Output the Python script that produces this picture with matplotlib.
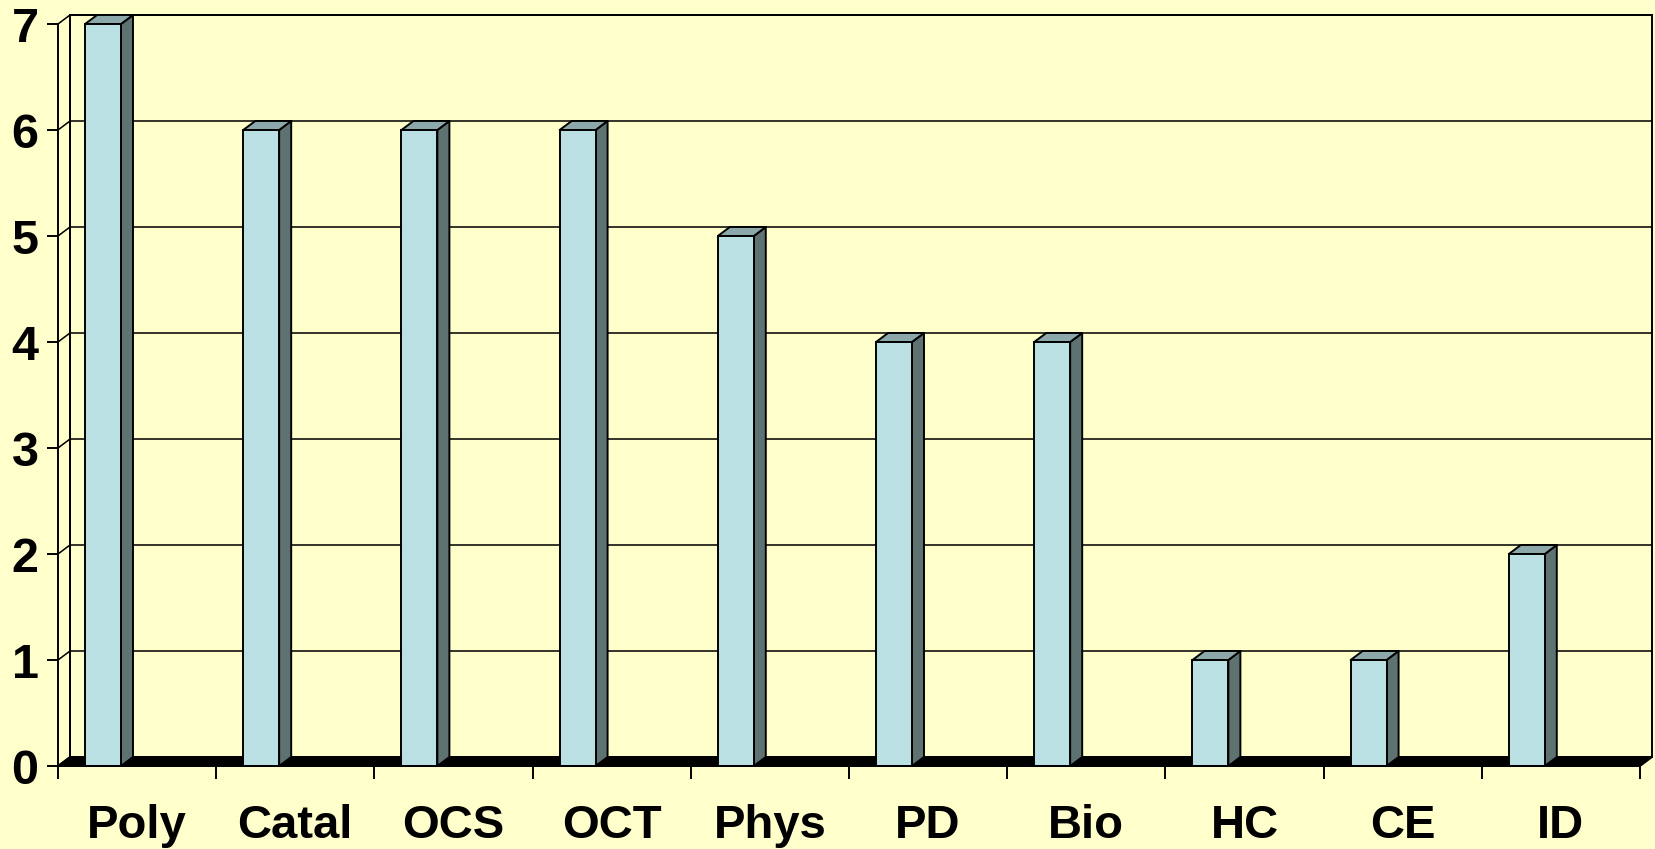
"""3D-style column chart (Excel look) drawn with plain matplotlib."""

import matplotlib.pyplot as plt
from matplotlib.patches import Polygon, Rectangle

categories = ['Poly', 'Catal', 'OCS', 'OCT', 'Phys', 'PD', 'Bio', 'HC', 'CE', 'ID']
counts = [7, 6, 6, 6, 5, 4, 4, 1, 1, 2]
y_ticks = [0, 1, 2, 3, 4, 5, 6, 7]

BG = '#FFFFCC'
FRONT = '#BBE0E3'
SIDE = '#5F7272'
TOP = '#8CA8AB'
DX, DY = 0.076, 0.085      # depth offset in data units
B0, B1 = 0.171, 0.398      # bar front face inside each category
LW = 1.4

plt.rcParams['font.family'] = ['Liberation Sans', 'DejaVu Sans']
plt.rcParams['font.weight'] = 'bold'

W, H = 1656, 849
fig = plt.figure(figsize=(W / 100, H / 100), dpi=100, facecolor=BG)
ax = fig.add_axes([58 / W, (H - 766) / H, (1640 - 58) / W, (766 - 24) / H])
ax.set_facecolor('none')
n = len(categories)
ymax = y_ticks[-1]
ax.set_xlim(0, n)
ax.set_ylim(0, ymax)

# back wall
ax.add_patch(Rectangle((DX, DY), n, ymax, facecolor=BG, edgecolor='black',
                       lw=LW, clip_on=False, zorder=0))
# gridlines on back wall and side wall
for t in y_ticks:
    ax.plot([DX, n + DX], [t + DY, t + DY], color='black', lw=LW * 0.8,
            clip_on=False, zorder=1)
    ax.plot([0, DX], [t, t + DY], color='black', lw=LW * 0.8,
            clip_on=False, zorder=1)
ax.plot([DX, DX], [DY, ymax + DY], color='black', lw=LW, clip_on=False, zorder=1)

# floor
ax.add_patch(Polygon([(0, 0), (n, 0), (n + DX, DY), (DX, DY)], closed=True,
                     facecolor='black', edgecolor='black', lw=LW,
                     clip_on=False, zorder=2))

# bars
for i, v in enumerate(counts):
    x0, x1 = i + B0, i + B1
    ax.add_patch(Polygon([(x1, 0), (x1 + DX, DY), (x1 + DX, v + DY), (x1, v)],
                         closed=True, facecolor=SIDE, edgecolor='black',
                         lw=LW, clip_on=False, zorder=3, joinstyle='round'))
    ax.add_patch(Polygon([(x0, v), (x1, v), (x1 + DX, v + DY), (x0 + DX, v + DY)],
                         closed=True, facecolor=TOP, edgecolor='black',
                         lw=LW, clip_on=False, zorder=3, joinstyle='round'))
ax.bar([i + B0 for i in range(n)], counts, width=B1 - B0, align='edge',
       color=FRONT, edgecolor='black', linewidth=LW, zorder=4, clip_on=False)

# axes, ticks, labels
for s in ['top', 'right', 'bottom']:
    ax.spines[s].set_visible(False)
ax.spines['left'].set_linewidth(LW)
ax.spines['left'].set_zorder(5)
ax.set_yticks(y_ticks)
ax.set_yticklabels([str(t) for t in y_ticks], fontsize=35, fontweight='bold')
ax.tick_params(axis='y', direction='out', length=8, width=LW, pad=6)
ax.set_xticks([i + 0.5 for i in range(n)])
ax.set_xticklabels(categories, fontsize=34, fontweight='bold')
ax.set_xticks(range(n + 1), minor=True)
ax.tick_params(axis='x', which='major', length=0, pad=27)
ax.tick_params(axis='x', which='minor', direction='out', length=9, width=LW)
ax.plot([0, n], [0, 0], color='black', lw=LW, zorder=5, clip_on=False)

plt.savefig('out.png', dpi=100, facecolor=BG)
